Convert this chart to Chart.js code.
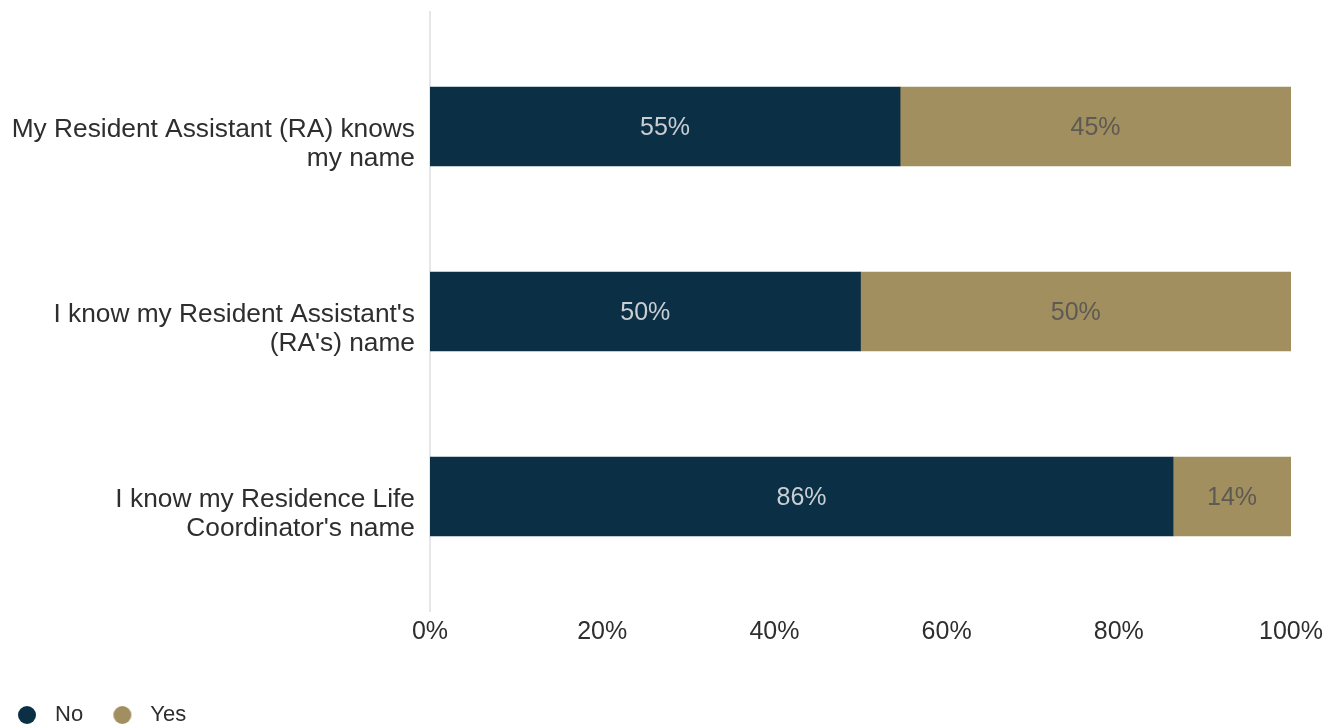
<!DOCTYPE html>
<html>
<head>
<meta charset="utf-8">
<script src="https://cdn.jsdelivr.net/npm/chart.js@4.4.0/dist/chart.umd.min.js"></script>
<style>
html,body{margin:0;padding:0;background:#fff;}
#wrap{width:1327px;height:727px;}
</style>
</head>
<body>
<div id="wrap"><canvas id="chart"></canvas></div>
<script>
// data
var CATEGORIES=[
  ['My Resident Assistant (RA) knows','my name'],
  ["I know my Resident Assistant's","(RA's) name"],
  ['I know my Residence Life',"Coordinator's name"]
];
var SERIES=['No','Yes'];
var NO_VALUES=[54.6,50,86.3];
var YES_VALUES=[45.4,50,13.7];
var X_TICKS=[0,20,40,60,80,100];

var NAVY='#0B2F45', TAN='#A28F5F';
var LABEL_COLORS=['#C9CED3','#5C5A52'];
var FONT="'Liberation Sans', Arimo, sans-serif";
var TXT='#2E2E2E';

// legend dot drawn into a small canvas so the gap to the text can be set
function dot(color){
  var c=document.createElement('canvas');c.width=30;c.height=20;
  var g=c.getContext('2d');g.fillStyle=color;
  g.beginPath();g.arc(13,10,9,0,Math.PI*2);g.fill();
  return c;
}
var DOTS=[dot(NAVY),dot(TAN)];

// percent labels in the middle of each segment
var barLabels={
  id:'barLabels',
  afterDatasetsDraw:function(chart){
    var ctx=chart.ctx;
    ctx.save();
    ctx.font='25px '+FONT;ctx.textAlign='center';ctx.textBaseline='middle';
    chart.data.datasets.forEach(function(ds,di){
      ctx.fillStyle=LABEL_COLORS[di];
      chart.getDatasetMeta(di).data.forEach(function(bar,i){
        ctx.fillText(Math.round(ds.data[i])+'%',(bar.x+bar.base)/2,bar.y+1.5);
      });
    });
    ctx.restore();
  }
};

// light vertical axis line, a bit longer than the plot area
var axisLine={
  id:'axisLine',
  beforeDatasetsDraw:function(chart){
    var a=chart.chartArea,ctx=chart.ctx;
    ctx.save();
    ctx.strokeStyle='#E6E6E6';ctx.lineWidth=2;
    ctx.beginPath();ctx.moveTo(a.left,a.top-23);ctx.lineTo(a.left,a.bottom+23);ctx.stroke();
    ctx.restore();
  }
};

Chart.defaults.font.family=FONT;
Chart.defaults.color=TXT;

new Chart(document.getElementById('chart'),{
  type:'bar',
  data:{
    labels:CATEGORIES,
    datasets:[
      {label:SERIES[0],data:NO_VALUES,backgroundColor:NAVY,barThickness:79},
      {label:SERIES[1],data:YES_VALUES,backgroundColor:TAN,barThickness:79}
    ]
  },
  options:{
    responsive:true,
    maintainAspectRatio:false,
    animation:false,
    indexAxis:'y',
    layout:{padding:{top:34,right:36,bottom:-9,left:0}},
    plugins:{
      tooltip:{enabled:false},
      legend:{
        position:'bottom',
        align:'start',
        labels:{
          usePointStyle:true,
          pointStyleWidth:30,
          boxHeight:20,
          padding:14,
          color:TXT,
          font:{size:22},
          generateLabels:function(chart){
            var items=Chart.defaults.plugins.legend.labels.generateLabels(chart);
            items.forEach(function(it,k){
              it.pointStyle=DOTS[k];
              if(k<items.length-1) it.text=it.text+'  ';
            });
            return items;
          }
        }
      }
    },
    scales:{
      x:{
        stacked:true,
        min:0,max:100,
        grid:{display:false},
        border:{display:false},
        afterBuildTicks:function(s){s.ticks=X_TICKS.map(function(v){return {value:v};});},
        afterFit:function(s){s.height=101;s.paddingLeft=0;s.paddingRight=0;},
        ticks:{padding:20,color:TXT,font:{size:25},callback:function(v){return v+'%';}}
      },
      y:{
        stacked:true,
        grid:{display:false},
        border:{display:false},
        afterFit:function(s){s.width=430;s.paddingTop=0;s.paddingBottom=0;},
        ticks:{padding:7,labelOffset:17.5,color:TXT,font:{size:26.3,lineHeight:1.11}}
      }
    }
  },
  plugins:[axisLine,barLabels]
});
</script>
</body>
</html>
